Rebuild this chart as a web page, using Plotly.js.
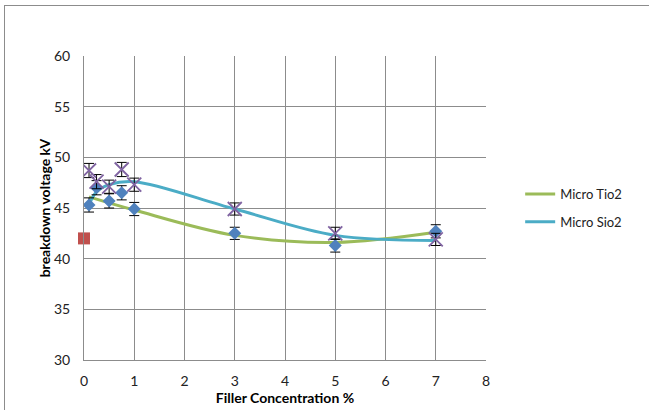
<!DOCTYPE html>
<html>
<head>
<meta charset="utf-8">
<script src="https://cdn.plot.ly/plotly-3.0.1.min.js"></script>
<style>
html,body{margin:0;padding:0;background:#fff;}
#chart{width:649px;height:410px;position:relative;}
#frame{position:absolute;left:4px;top:5px;width:700px;height:500px;border-left:1px solid #8c8c8c;border-top:1px solid #8c8c8c;pointer-events:none;}
</style>
</head>
<body>
<div id="chart"></div>
<div id="frame"></div>
<script>
// Measured points (markers with error bars)
const diamondX = [0.1, 0.25, 0.5, 0.75, 1, 3, 5, 7];
const diamondY = [45.3, 47.0, 45.7, 46.5, 44.9, 42.5, 41.3, 42.7];
const diamondErr = [0.7, 0.7, 0.7, 0.7, 0.65, 0.6, 0.65, 0.65];

const crossX = [0.1, 0.25, 0.5, 0.75, 1, 3, 5, 7];
const crossY = [48.7, 47.6, 47.1, 48.8, 47.3, 44.9, 42.5, 41.9];
const crossErr = [0.7, 0.7, 0.65, 0.7, 0.65, 0.6, 0.6, 0.6];

// Reference point
const refX = [0];
const refY = [42.0];

// Smoothed trend lines
const tioX = [0.1, 1, 3, 5, 7];
const tioY = [46.1, 44.8, 42.3, 41.6, 42.6];
const sioX = [0.1, 0.25, 0.5, 1, 3, 5, 7];
const sioY = [45.3, 46.6, 47.3, 47.6, 44.9, 42.3, 41.8];

const xTicks = [0, 1, 2, 3, 4, 5, 6, 7, 8];
const yTicks = [30, 35, 40, 45, 50, 55, 60];

const traces = [
  {x: tioX, y: tioY, type: 'scatter', mode: 'lines', name: 'Micro Tio2',
   line: {color: '#9BBB59', width: 3, shape: 'spline', smoothing: 1}, legendgroup: 'a'},
  {x: sioX, y: sioY, type: 'scatter', mode: 'lines', name: 'Micro Sio2',
   line: {color: '#4BACC6', width: 3, shape: 'spline', smoothing: 1}, legendgroup: 'b'},
  {x: diamondX, y: diamondY, type: 'scatter', mode: 'markers', showlegend: false,
   marker: {symbol: 'diamond', size: 10, color: '#4F81BD'},
   error_y: {type: 'data', array: diamondErr, visible: true, color: '#000', thickness: 1, width: 5}},
  {x: crossX, y: crossY, type: 'scatter', mode: 'markers', showlegend: false,
   marker: {symbol: 'x-thin-open', size: 14, color: '#8064A2', line: {width: 1.8, color: '#8064A2'}},
   error_y: {type: 'data', array: crossErr, visible: true, color: '#000', thickness: 1, width: 5}},
  {x: refX, y: refY, type: 'scatter', mode: 'markers', showlegend: false, cliponaxis: false,
   marker: {symbol: 'square', size: 12, color: '#C0504D'}}
];

const layout = {
  width: 649, height: 410,
  margin: {l: 84, r: 163, t: 56, b: 50},
  paper_bgcolor: '#fff', plot_bgcolor: '#fff',
  font: {family: 'Lato, "Open Sans", sans-serif', size: 14, color: '#222'},
  showlegend: true,
  legend: {x: 1.085, xanchor: 'left', y: 0.5, yanchor: 'middle',
           font: {size: 13, color: '#222'}, tracegroupgap: 8, traceorder: 'grouped'},
  xaxis: {range: [0, 8], tickvals: xTicks, ticktext: xTicks.map(String),
          showgrid: true, gridcolor: '#8c8c8c', gridwidth: 1,
          showline: true, linecolor: '#8c8c8c', linewidth: 1, zeroline: false,
          ticks: '', ticklabelstandoff: 8, tickfont: {size: 14, color: '#222'},
          title: {text: 'Filler Concentration %', font: {size: 14, color: '#000', weight: 'bold'}, standoff: 5}},
  yaxis: {range: [30, 60], tickvals: yTicks, ticktext: yTicks.map(String),
          showgrid: true, gridcolor: '#8c8c8c', gridwidth: 1,
          showline: true, linecolor: '#8c8c8c', linewidth: 1, zeroline: false,
          ticks: '', ticklabelstandoff: 10, tickfont: {size: 14, color: '#222'},
          title: {text: 'breakdown voltage kV', font: {size: 14, color: '#000', weight: 'bold'}, standoff: 0}}
};

Plotly.newPlot('chart', traces, layout, {displayModeBar: false, staticPlot: true});
</script>
</body>
</html>
